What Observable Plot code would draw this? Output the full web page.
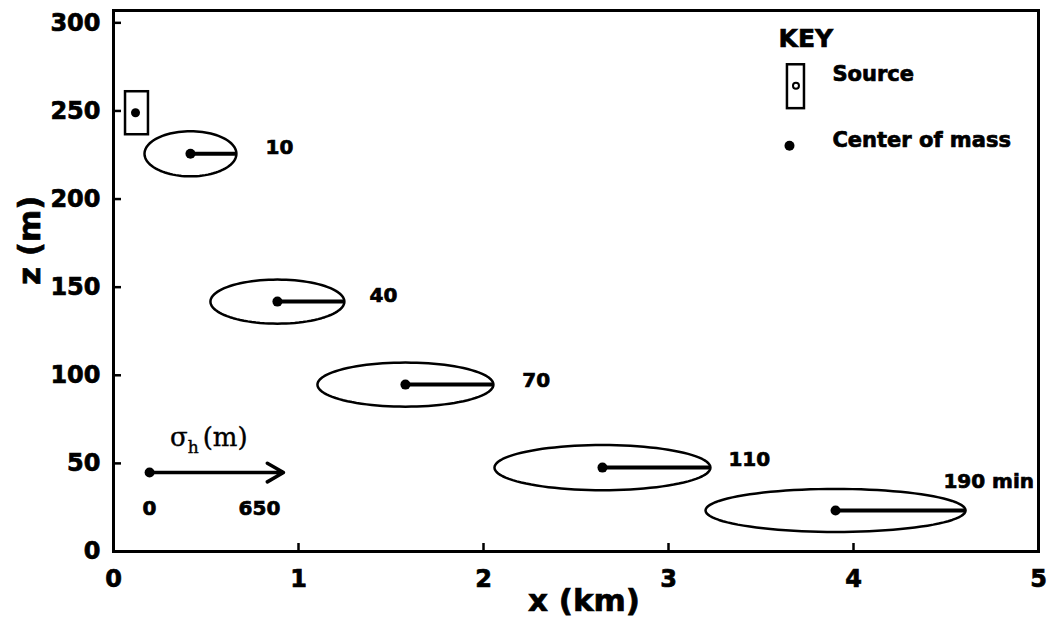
<!DOCTYPE html>
<html>
<head>
<meta charset="utf-8">
<script src="https://cdn.jsdelivr.net/npm/d3@7"></script>
<script src="https://cdn.jsdelivr.net/npm/@observablehq/plot@0.6"></script>
<style>
  html, body { margin: 0; padding: 0; background: #fff; overflow: hidden; }
  #chart svg { display: block; }
  /* heavy, ink-like lettering */
  #chart svg text { stroke: #000; stroke-width: 0.7px; paint-order: stroke; }
  #chart svg text.caption { stroke-width: 0.4px; }
</style>
</head>
<body>
<div id="chart"></div>
<script>
// Puff positions and horizontal spread at successive travel times
const times = [10, 40, 70, 110, 190];                  // min
const timeLabels = ["10", "40", "70", "110", "190 min"];
const centerX = [0.416, 0.886, 1.578, 2.643, 3.903];   // km, centre of mass
const centerZ = [225.7, 141.8, 94.7, 47.6, 23.3];      // m, centre of mass
const sigmaH = [223, 325, 427, 524, 631];              // m, horizontal spread
const halfDepth = [12.8, 12.5, 12.5, 12.8, 12.2];      // m, half vertical extent
const labelX = [0.822, 1.384, 2.21, 3.324, 4.486];     // km, time annotation anchor
const labelZ = [229, 145, 97, 52, 39.7];               // m, time annotation anchor

// Release point and its box
const sourceX = 0.119, sourceZ = 249;                  // km, m
const sourceBoxX = [0.065, 0.189];                     // km
const sourceBoxZ = [236.5, 260.9];                     // m

// Axes
const xTicks = [0, 1, 2, 3, 4, 5];
const zTicks = [0, 50, 100, 150, 200, 250, 300];

// Scale bar for sigma_h
const sigmaBar = [0, 650];                             // m
const sigmaBarKm = 0.724;                              // drawn length of the 650 m bar on the x axis
const kmPerSigma = sigmaBarKm / sigmaBar[1];

const puffs = times.map((t, i) => ({
  t, label: timeLabels[i], x: centerX[i], z: centerZ[i],
  xr: centerX[i] + sigmaH[i] * kmPerSigma, lx: labelX[i], lz: labelZ[i]
}));

// Outline of each puff as an ellipse around its centre of mass
const outline = puffs.flatMap((p, i) => d3.range(97).map(j => {
  const a = 2 * Math.PI * j / 96;
  return {t: p.t, x: p.x + sigmaH[i] * kmPerSigma * Math.cos(a), z: p.z + halfDepth[i] * Math.sin(a)};
}));

const barX0 = 0.195, barZ = 44.8;
const bar = [{x1: barX0, x2: barX0 + sigmaBarKm, z: barZ}];
const barLabels = [
  {x: barX0, z: 24.4, text: String(sigmaBar[0])},
  {x: 0.789, z: 24.4, text: String(sigmaBar[1])}
];

const font = "DejaVu Sans";

const chart = Plot.plot({
  width: 1052,
  height: 638,
  marginLeft: 113,
  marginRight: 14,
  marginTop: 10,
  marginBottom: 87,
  x: {domain: [0, 5]},
  y: {domain: [0, 307]},
  style: {fontFamily: font, fontWeight: "bold", background: "#fff", color: "#000", overflow: "visible"},
  marks: [
    Plot.frame({stroke: "#000", strokeWidth: 3}),
    Plot.axisX({ticks: xTicks, tickSize: 0, tickPadding: 18, fontSize: 24, label: null, tickFormat: d => d}),
    Plot.axisY({ticks: zTicks, tickSize: 0, tickPadding: 13, fontSize: 24, label: null, tickFormat: d => d}),
    // inward tick marks
    Plot.ruleX(xTicks.slice(1, -1), {x: d => d, y1: 0, y2: 0, insetTop: -8, strokeWidth: 2.5}),
    Plot.ruleY(zTicks.slice(1), {y: d => d, x1: 0, x2: 0, insetRight: -8, strokeWidth: 2.5}),
    Plot.text(["x (km)"], {frameAnchor: "bottom", dx: 8, dy: 59, fontSize: 31}),
    Plot.text(["z (m)"], {frameAnchor: "left", rotate: -90, dx: -83, dy: 4, fontSize: 31}),

    // source
    Plot.rect([0], {x1: sourceBoxX[0], x2: sourceBoxX[1], y1: sourceBoxZ[0], y2: sourceBoxZ[1], fill: "none", stroke: "#000", strokeWidth: 2.5}),
    Plot.dot([0], {x: sourceX, y: sourceZ, r: 4.5, fill: "#000"}),

    // puffs
    Plot.line(outline, {x: "x", y: "z", z: "t", stroke: "#000", strokeWidth: 2.5}),
    Plot.link(puffs, {x1: "x", y1: "z", x2: "xr", y2: "z", stroke: "#000", strokeWidth: 4}),
    Plot.dot(puffs, {x: "x", y: "z", r: 5, fill: "#000"}),
    Plot.text(puffs, {x: "lx", y: "lz", text: "label", textAnchor: "start", fontSize: 20}),

    // sigma_h scale bar
    Plot.arrow(bar, {x1: "x1", x2: "x2", y1: "z", y2: "z", stroke: "#000", strokeWidth: 3.5, headLength: 8}),
    Plot.dot(bar, {x: "x1", y: "z", r: 5, fill: "#000"}),
    Plot.text(barLabels, {x: "x", y: "z", text: "text", fontSize: 20}),

    // key
    Plot.text(["KEY"], {x: 3.595, y: 291, textAnchor: "start", fontSize: 25}),
    Plot.rect([0], {x1: 3.643, x2: 3.735, y1: 251.3, y2: 276.2, fill: "none", stroke: "#000", strokeWidth: 2.5}),
    Plot.dot([0], {x: 3.689, y: 264.3, r: 3, fill: "none", stroke: "#000", strokeWidth: 2}),
    Plot.text(["Source"], {x: 3.886, y: 271, textAnchor: "start", fontSize: 21}),
    Plot.dot([0], {x: 3.654, y: 230.3, r: 5, fill: "#000"}),
    Plot.text(["Center of mass"], {x: 3.886, y: 233.1, textAnchor: "start", fontSize: 21})
  ]
});

// sigma_h (m) caption with a subscript, placed through the chart's scales
const sx = chart.scale("x"), sy = chart.scale("y");
const cap = d3.select(chart).append("text")
  .attr("class", "caption")
  .attr("x", sx.apply(0.308))
  .attr("y", sy.apply(59.6))
  .attr("text-anchor", "start")
  .attr("font-family", "DejaVu Serif")
  .attr("font-weight", "normal")
  .attr("font-size", 26)
  .attr("fill", "#000");
cap.append("tspan").text("σ");
cap.append("tspan").attr("font-size", 17).attr("dy", 7).text("h");
cap.append("tspan").attr("dy", -7).attr("dx", 4).text("(m)");

document.getElementById("chart").append(chart);
</script>
</body>
</html>
